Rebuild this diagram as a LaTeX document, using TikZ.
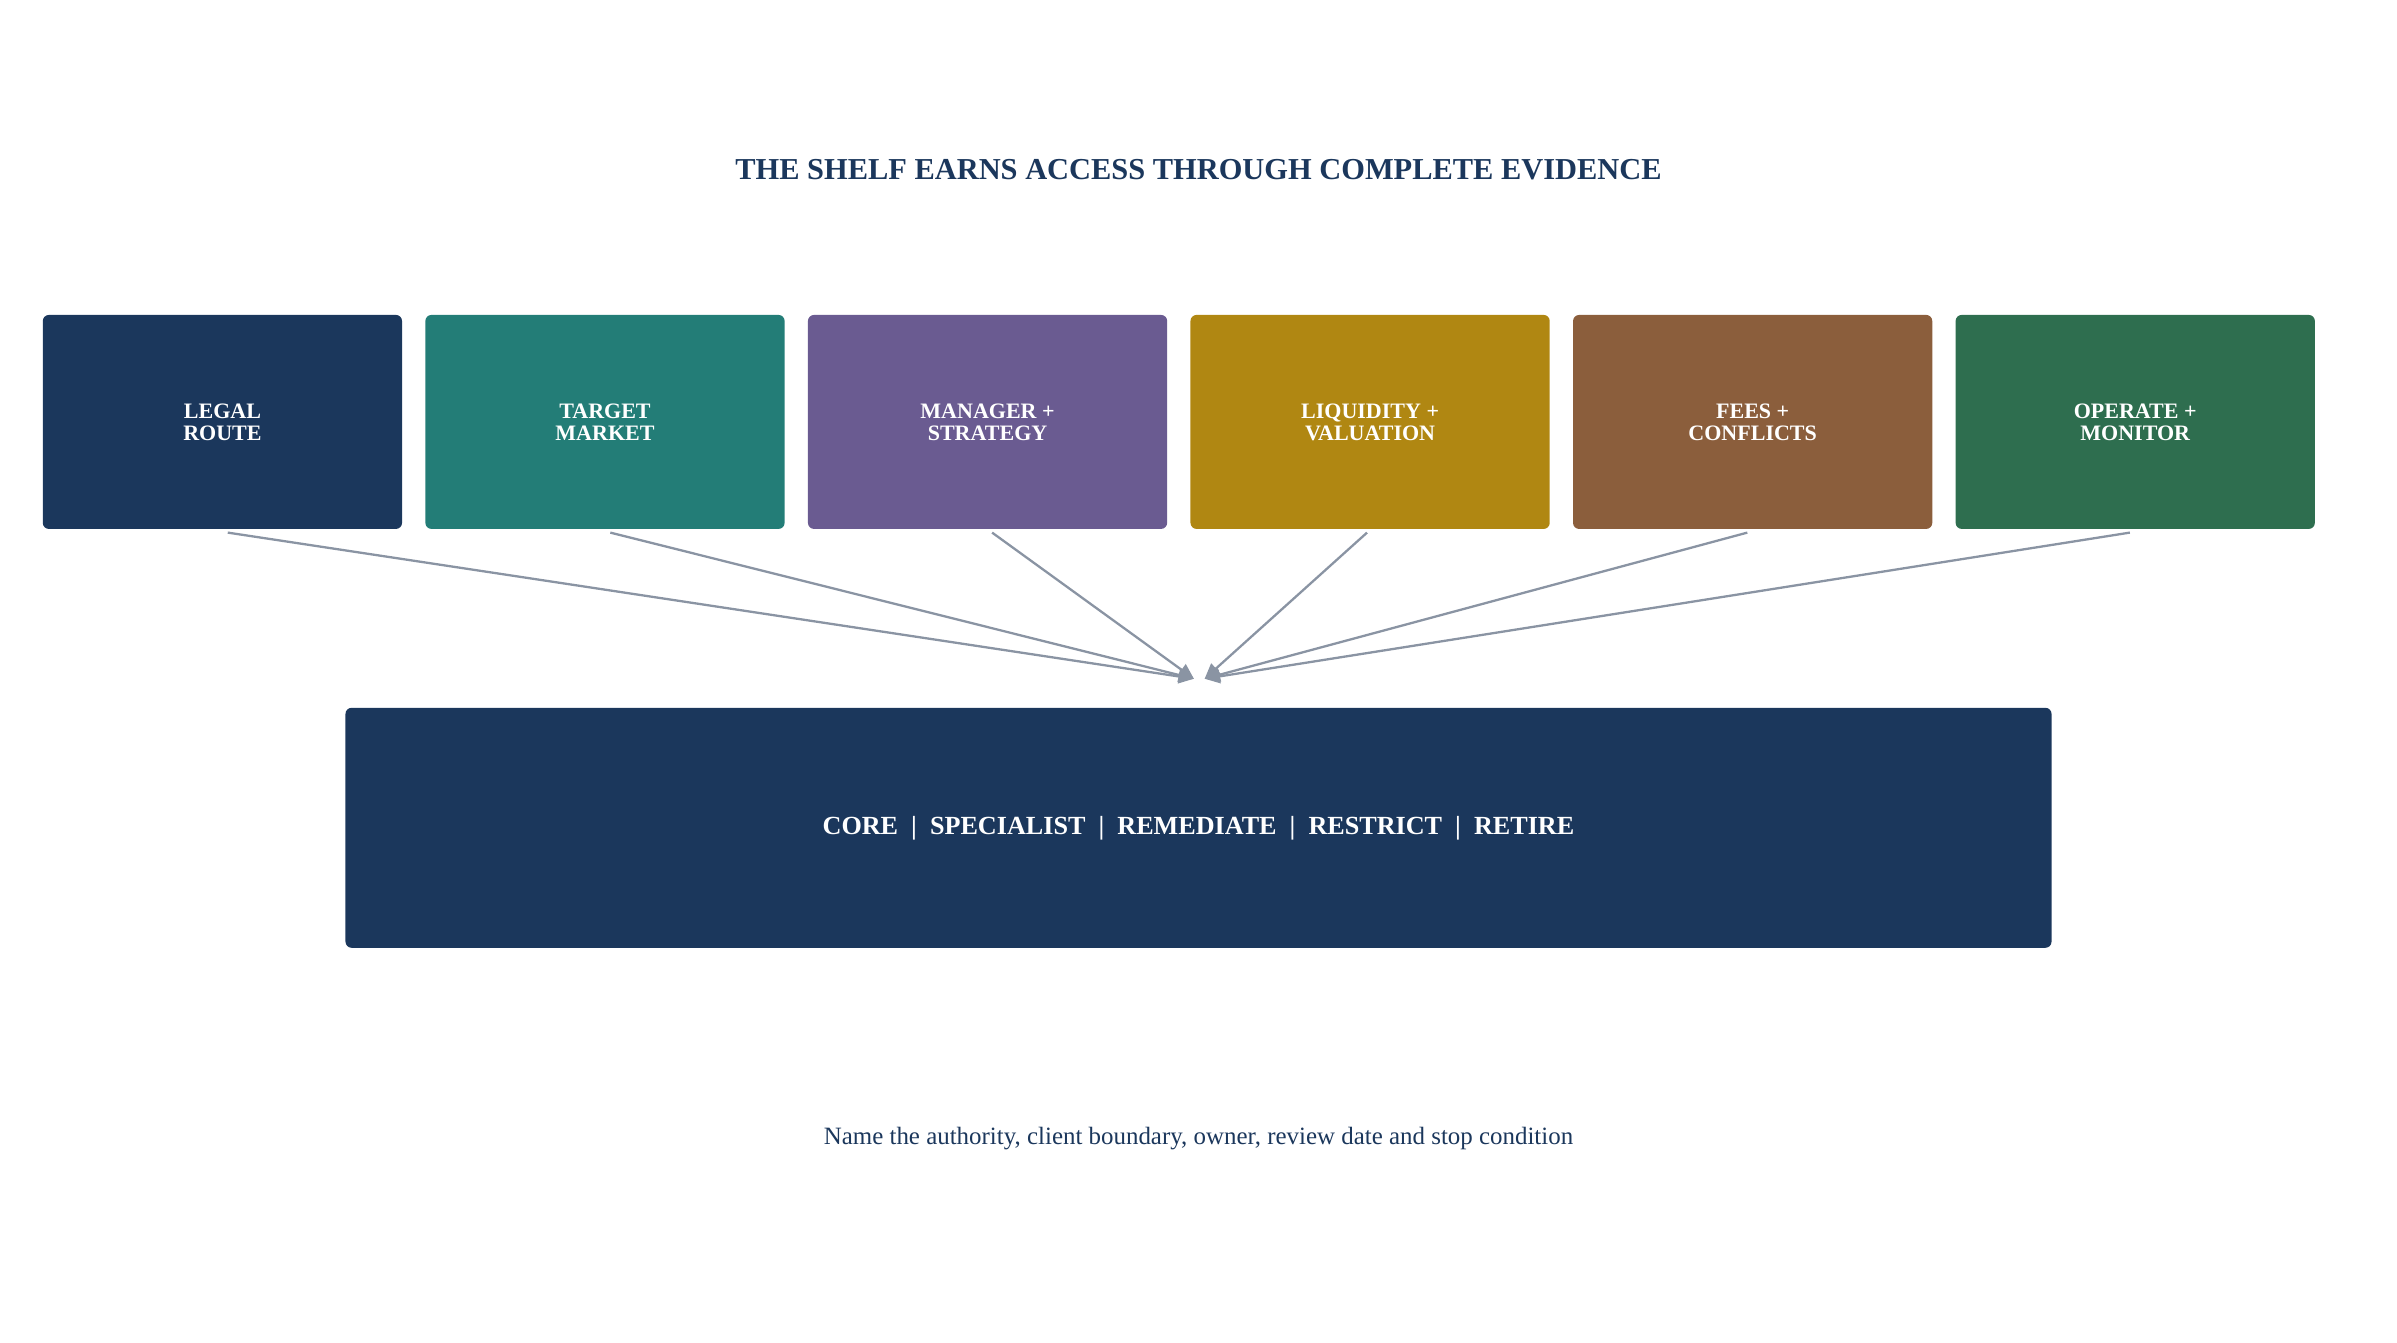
\documentclass[tikz,border=0pt]{standalone}
\usepackage{fontspec}
\setmainfont{Liberation Serif}
\usetikzlibrary{arrows.meta,calc}
\definecolor{navy}{HTML}{1B375C}
\definecolor{tealc}{HTML}{237D77}
\definecolor{purplec}{HTML}{6A5B91}
\definecolor{goldc}{HTML}{B08712}
\definecolor{brownc}{HTML}{8B5E3C}
\definecolor{greenc}{HTML}{2E6E4F}
\definecolor{arrowc}{HTML}{8A94A3}
\tikzset{
  card/.style={fill=#1, draw=none, rounded corners=2pt, minimum width=117.5pt, minimum height=70pt,
    text=white, font=\fontsize{7.2}{7.2}\selectfont\bfseries, align=center, inner sep=0pt},
  feed/.style={draw=arrowc, line width=0.75pt, -{Triangle[length=5pt,width=4.5pt]}},
}
\begin{document}
\begin{tikzpicture}[x=0.5pt,y=-0.5pt]
\useasboundingbox (0,0) rectangle (1568,878);
\node[text=navy, font=\fontsize{9.95}{9.95}\selectfont\bfseries] (title) at (784,111) {THE SHELF EARNS ACCESS THROUGH COMPLETE EVIDENCE};
\node[card=navy] (b1) at (145.5,276) {LEGAL\\ROUTE};
\node[card=tealc] (b2) at (395.75,276) {TARGET\\MARKET};
\node[card=purplec] (b3) at (646,276) {MANAGER +\\STRATEGY};
\node[card=goldc] (b4) at (896.25,276) {LIQUIDITY +\\VALUATION};
\node[card=brownc] (b5) at (1146.5,276) {FEES +\\CONFLICTS};
\node[card=greenc] (b6) at (1396.75,276) {OPERATE +\\MONITOR};
\node[fill=navy, rounded corners=2pt, minimum width=558pt, minimum height=78.5pt, inner sep=0pt,
  text=white, font=\fontsize{8.55}{8.55}\selectfont\bfseries] (core) at (784,541.5)
  {CORE\ \ |\ \ SPECIALIST\ \ |\ \ REMEDIATE\ \ |\ \ RESTRICT\ \ |\ \ RETIRE};
\coordinate (tl) at (781,444);
\coordinate (tr) at (788,444);
\draw[feed] ([xshift=1.75pt,yshift=-1pt]b1.south) -- (tl);
\draw[feed] ([xshift=1.75pt,yshift=-1pt]b2.south) -- (tl);
\draw[feed] ([xshift=1.5pt,yshift=-1pt]b3.south) -- (tl);
\draw[feed] ([xshift=-1pt,yshift=-1pt]b4.south) -- (tr);
\draw[feed] ([xshift=-1.75pt,yshift=-1pt]b5.south) -- (tr);
\draw[feed] ([xshift=-1.75pt,yshift=-1pt]b6.south) -- (tr);
\node[text=navy, font=\fontsize{8.15}{8.15}\selectfont] (foot) at (784,745) {Name the authority, client boundary, owner, review date and stop condition};
\end{tikzpicture}
\end{document}
